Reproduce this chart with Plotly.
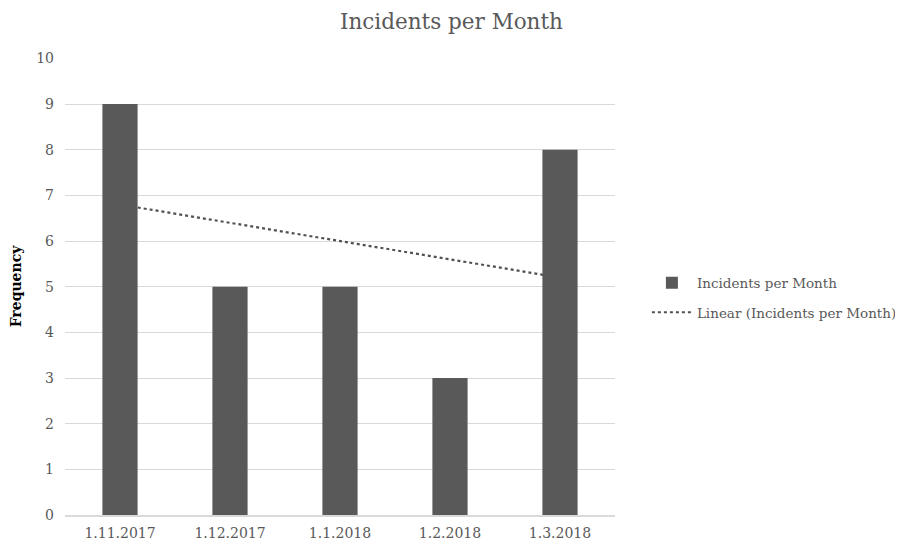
import numpy as np
import plotly.graph_objects as go

months = ["1.11.2017", "1.12.2017", "1.1.2018", "1.2.2018", "1.3.2018"]
incidents = [9, 5, 5, 3, 8]

# linear trend (least squares) like Excel's linear trendline
xi = np.arange(1, len(incidents) + 1)
slope, intercept = np.polyfit(xi, incidents, 1)
trend = list(slope * xi + intercept)

FONT = "DejaVu Serif"
GRAY = "#595959"

fig = go.Figure()
# bars on overlaying axes so they cover the trend line
fig.add_trace(go.Bar(
    x=months, y=incidents, name="Incidents per Month",
    marker=dict(color=GRAY, line=dict(width=0)), width=0.32,
    xaxis="x2", yaxis="y2", legendgroup="a",
))
# trend line on base axes (drawn below overlaying axes)
fig.add_trace(go.Scatter(
    x=months, y=trend, mode="lines", name="Linear (Incidents per Month)",
    line=dict(color="#505050", width=2.2, dash="dot"), xaxis="x", yaxis="y",
    legendgroup="b",
))

YR = [0, 10.01]
fig.update_layout(
    width=895, height=537,
    margin=dict(l=57, r=288, t=50, b=30, autoexpand=False),
    paper_bgcolor="white", plot_bgcolor="white",
    font=dict(family=FONT, size=14, color=GRAY),
    title=dict(text="Incidents per Month", x=0.4955, xref="container", xanchor="center",
               y=0.974, yanchor="middle",
               font=dict(family=FONT, size=21.5, color=GRAY)),
    xaxis=dict(type="category", categoryorder="array", categoryarray=months,
               range=[-0.5, 4.5], showgrid=False, showline=True, automargin=False,
               linecolor="#d9d9d9", linewidth=1.5, ticks="", ticklabelstandoff=4,
               tickfont=dict(size=14, color=GRAY)),
    yaxis=dict(range=YR, dtick=1, tick0=0, showgrid=True, gridcolor="#d9d9d9", gridwidth=1.3,
               zeroline=False, showline=False, ticks="", automargin=False,
               ticklabelstandoff=10,
               tickfont=dict(size=14, color=GRAY),
               title=dict(text="<b>Frequency</b>", standoff=16,
                          font=dict(family=FONT, size=14, color="black"))),
    xaxis2=dict(type="category", categoryorder="array", categoryarray=months,
                range=[-0.5, 4.5], overlaying="x", visible=False),
    yaxis2=dict(range=YR, overlaying="y", visible=False),
    legend=dict(x=1.058, y=0.475, xanchor="left", yanchor="middle",
                traceorder="grouped", font=dict(family=FONT, size=13.5, color=GRAY),
                itemwidth=40, tracegroupgap=9, bgcolor="rgba(0,0,0,0)"),
    showlegend=True,
)

fig.write_html("out.html")
